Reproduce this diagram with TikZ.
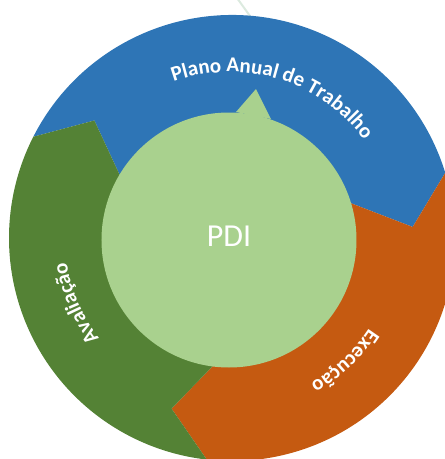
\documentclass[tikz,border=0pt]{standalone}
\usepackage{fontspec}
\setmainfont{Carlito}
\usetikzlibrary{decorations.text}

\definecolor{planblue}{HTML}{2E75B6}
\definecolor{execorange}{HTML}{C55A11}
\definecolor{evalgreen}{HTML}{548235}
\definecolor{pdigreen}{HTML}{A9D18E}
\definecolor{faintline}{HTML}{DCEADF}

\newcommand{\ringfont}{\color{white}\bfseries\fontsize{21}{25}\selectfont}

\begin{document}
\begin{tikzpicture}[x=1pt,y=1pt,
    ringtext/.style={decorate,
        decoration={text along path, text align=center, text={|\ringfont|#1}}}]
    \useasboundingbox (-230pt,-221pt) rectangle (215pt,238pt);

    % faint line behind the ring
    \draw[faintline, line width=2pt] (7pt,240pt) -- (20pt,222pt);

    % the three arrows of the cycle
    \begin{scope}[draw=none, shift={(2pt,0pt)}]
        \fill[planblue] (153:223pt) arc[start angle=153, end angle=17, radius=223pt]
            -- (3.5:181pt) -- (17:122pt)
            arc[start angle=17, end angle=153, radius=122pt]
            -- (139.5:181pt) -- cycle;
        \fill[execorange] (17:223pt) arc[start angle=17, end angle=-96.5, radius=223pt]
            -- (-109.5:181pt) -- (-96:122pt)
            arc[start angle=-96, end angle=17, radius=122pt]
            -- (3.5:181pt) -- cycle;
        \fill[evalgreen] (263.5:223pt) arc[start angle=263.5, end angle=153, radius=223pt]
            -- (139.5:181pt) -- (153:122pt)
            arc[start angle=153, end angle=264, radius=122pt]
            -- (250.5:181pt) -- cycle;
    \end{scope}

    % labels along the ring
    \path[ringtext={Plano Anual de Trabalho}] (133:166pt) arc[start angle=133, end angle=13, radius=166pt];
    \path[ringtext={Execução}] (-7:166pt) arc[start angle=-7, end angle=-87, radius=166pt];
    \path[ringtext={Avaliação}] (243:165pt) arc[start angle=243, end angle=163, radius=165pt];

    % centre
    \begin{scope}[every node/.style={circle,inner sep=0pt}]
        \node[fill=pdigreen, minimum size=255pt] (pdi) at (-1pt,-2pt) {};
        \node[text=white, font=\fontsize{32}{38}\selectfont] (pdilabel) at (-1pt,2pt) {PDI};
    \end{scope}
    \fill[pdigreen] (6pt,126pt) -- (26pt,149pt) -- (41pt,119pt) -- cycle;
\end{tikzpicture}
\end{document}
